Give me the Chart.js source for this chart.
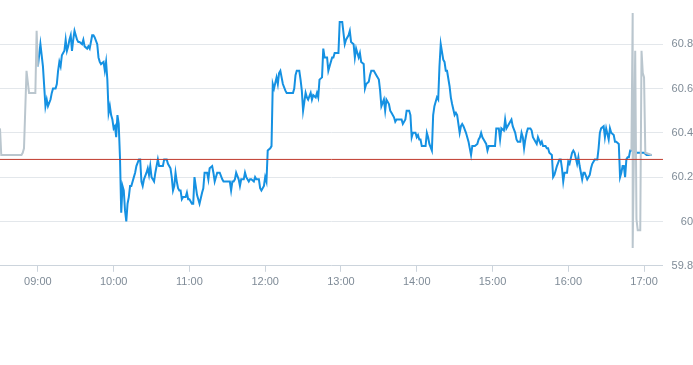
<!DOCTYPE html>
<html>
<head>
<meta charset="utf-8">
<script src="https://cdn.jsdelivr.net/npm/chart.js@4.4.1/dist/chart.umd.min.js"></script>
<style>
  body { margin: 0; background: #fff; }
  #wrap { width: 693px; height: 293px; }
</style>
</head>
<body>
<div id="wrap"><canvas id="priceChart"></canvas></div>
<script>
// pre-market (grey)
const preTimes = ["08:30", "08:31", "08:47", "08:48", "08:49", "08:51", "08:52", "08:53", "08:58", "08:59", "09:00"];
const preValues = [60.42, 60.30, 60.30, 60.31, 60.33, 60.68, 60.63, 60.58, 60.58, 60.86, 60.70];

// regular session (blue)
const sessionTimes = [
  "09:00", "09:02", "09:04", "09:06", "09:07", "09:08", "09:10", "09:11", "09:12", "09:14",
  "09:15", "09:16", "09:17", "09:18", "09:19", "09:20", "09:21", "09:22", "09:23", "09:24",
  "09:25", "09:26", "09:27", "09:28", "09:29", "09:31", "09:32", "09:33", "09:35", "09:36",
  "09:37", "09:39", "09:40", "09:41", "09:43", "09:44", "09:45", "09:47", "09:48", "09:49",
  "09:50", "09:52", "09:53", "09:54", "09:55", "09:56", "09:57", "09:58", "09:59", "10:00",
  "10:01", "10:02", "10:03", "10:04", "10:05", "10:06", "10:07", "10:08", "10:09", "10:10",
  "10:11", "10:12", "10:13", "10:14", "10:16", "10:17", "10:18", "10:20", "10:21", "10:22",
  "10:23", "10:24", "10:26", "10:27", "10:28", "10:29", "10:30", "10:31", "10:32", "10:33",
  "10:35", "10:36", "10:37", "10:39", "10:40", "10:42", "10:43", "10:45", "10:46", "10:47",
  "10:48", "10:49", "10:50", "10:51", "10:52", "10:53", "10:54", "10:55", "10:57", "10:58",
  "10:59", "11:00", "11:02", "11:03", "11:04", "11:06", "11:07", "11:08", "11:10", "11:11",
  "11:12", "11:14", "11:15", "11:16", "11:18", "11:19", "11:20", "11:22", "11:23", "11:24",
  "11:26", "11:27", "11:30", "11:32", "11:33", "11:34", "11:35", "11:36", "11:37", "11:39",
  "11:40", "11:41", "11:43", "11:44", "11:45", "11:47", "11:48", "11:49", "11:51", "11:52",
  "11:53", "11:55", "11:56", "11:57", "11:59", "12:00", "12:01", "12:02", "12:04", "12:05",
  "12:06", "12:07", "12:09", "12:10", "12:11", "12:12", "12:13", "12:14", "12:16", "12:17",
  "12:20", "12:22", "12:23", "12:24", "12:25", "12:27", "12:28", "12:29", "12:30", "12:32",
  "12:33", "12:34", "12:36", "12:37", "12:38", "12:40", "12:41", "12:42", "12:43", "12:45",
  "12:46", "12:47", "12:49", "12:50", "12:51", "12:53", "12:54", "12:55", "12:58", "12:59",
  "13:01", "13:03", "13:04", "13:06", "13:07", "13:08", "13:10", "13:11", "13:12", "13:14",
  "13:15", "13:16", "13:18", "13:19", "13:20", "13:22", "13:23", "13:24", "13:26", "13:28",
  "13:30", "13:31", "13:32", "13:34", "13:35", "13:36", "13:38", "13:39", "13:40", "13:42",
  "13:43", "13:44", "13:47", "13:48", "13:49", "13:51", "13:52", "13:54", "13:55", "13:56",
  "13:57", "13:59", "14:00", "14:01", "14:02", "14:03", "14:04", "14:05", "14:07", "14:08",
  "14:09", "14:10", "14:12", "14:13", "14:14", "14:16", "14:17", "14:18", "14:19", "14:21",
  "14:22", "14:23", "14:24", "14:26", "14:27", "14:28", "14:30", "14:31", "14:32", "14:34",
  "14:35", "14:36", "14:37", "14:39", "14:40", "14:41", "14:43", "14:44", "14:46", "14:48",
  "14:49", "14:50", "14:51", "14:52", "14:53", "14:55", "14:56", "14:57", "14:59", "15:02",
  "15:03", "15:05", "15:06", "15:07", "15:09", "15:10", "15:11", "15:13", "15:14", "15:15",
  "15:16", "15:18", "15:19", "15:20", "15:22", "15:23", "15:24", "15:25", "15:26", "15:27",
  "15:28", "15:30", "15:31", "15:32", "15:34", "15:35", "15:36", "15:38", "15:39", "15:40",
  "15:42", "15:43", "15:44", "15:45", "15:47", "15:48", "15:49", "15:50", "15:51", "15:53",
  "15:54", "15:55", "15:56", "15:57", "15:59", "16:00", "16:01", "16:03", "16:04", "16:05",
  "16:07", "16:08", "16:09", "16:11", "16:12", "16:13", "16:15", "16:17", "16:18", "16:19",
  "16:21", "16:23", "16:24", "16:25", "16:26", "16:28", "16:29", "16:30", "16:32", "16:33",
  "16:34", "16:36", "16:37", "16:38", "16:40", "16:41", "16:42", "16:43", "16:44", "16:45",
  "16:46", "16:47", "16:48", "16:49", "16:50", "16:52", "16:54", "16:57", "17:00", "17:02",
  "17:06"
];
const sessionValues = [
  60.70, 60.80, 60.70, 60.52, 60.55, 60.52, 60.55, 60.58, 60.60, 60.60,
  60.62, 60.68, 60.72, 60.70, 60.75, 60.76, 60.77, 60.82, 60.77, 60.79,
  60.82, 60.84, 60.77, 60.82, 60.86, 60.82, 60.81, 60.81, 60.80, 60.82,
  60.79, 60.78, 60.79, 60.78, 60.84, 60.84, 60.83, 60.80, 60.74, 60.72,
  60.71, 60.72, 60.68, 60.72, 60.64, 60.49, 60.52, 60.48, 60.46, 60.42,
  60.43, 60.38, 60.48, 60.44, 60.29, 60.04, 60.16, 60.14, 60.05, 60.00,
  60.08, 60.11, 60.16, 60.16, 60.20, 60.22, 60.25, 60.28, 60.28, 60.18,
  60.16, 60.19, 60.22, 60.24, 60.21, 60.25, 60.20, 60.19, 60.18, 60.22,
  60.28, 60.25, 60.25, 60.25, 60.28, 60.28, 60.26, 60.24, 60.20, 60.14,
  60.16, 60.22, 60.18, 60.15, 60.14, 60.14, 60.10, 60.11, 60.11, 60.13,
  60.10, 60.10, 60.08, 60.08, 60.20, 60.12, 60.10, 60.08, 60.13, 60.15,
  60.22, 60.22, 60.19, 60.24, 60.25, 60.22, 60.18, 60.22, 60.22, 60.22,
  60.19, 60.18, 60.18, 60.18, 60.14, 60.18, 60.18, 60.19, 60.22, 60.19,
  60.16, 60.19, 60.19, 60.22, 60.20, 60.18, 60.19, 60.19, 60.18, 60.20,
  60.19, 60.19, 60.15, 60.14, 60.16, 60.20, 60.18, 60.32, 60.33, 60.34,
  60.62, 60.60, 60.65, 60.62, 60.67, 60.68, 60.65, 60.62, 60.59, 60.58,
  60.58, 60.58, 60.60, 60.66, 60.68, 60.68, 60.64, 60.59, 60.50, 60.58,
  60.56, 60.55, 60.58, 60.55, 60.57, 60.56, 60.58, 60.56, 60.64, 60.65,
  60.78, 60.74, 60.74, 60.68, 60.70, 60.74, 60.74, 60.76, 60.76, 60.90,
  60.90, 60.80, 60.82, 60.84, 60.86, 60.81, 60.80, 60.74, 60.78, 60.74,
  60.76, 60.72, 60.71, 60.60, 60.62, 60.63, 60.66, 60.68, 60.68, 60.66,
  60.64, 60.59, 60.52, 60.55, 60.50, 60.55, 60.53, 60.50, 60.49, 60.47,
  60.45, 60.46, 60.46, 60.46, 60.44, 60.46, 60.50, 60.50, 60.48, 60.38,
  60.40, 60.40, 60.38, 60.39, 60.37, 60.37, 60.34, 60.34, 60.34, 60.40,
  60.38, 60.35, 60.32, 60.48, 60.52, 60.56, 60.55, 60.70, 60.80, 60.73,
  60.72, 60.68, 60.68, 60.61, 60.56, 60.53, 60.48, 60.49, 60.48, 60.40,
  60.43, 60.44, 60.43, 60.40, 60.38, 60.36, 60.30, 60.34, 60.34, 60.35,
  60.37, 60.38, 60.40, 60.38, 60.37, 60.35, 60.32, 60.34, 60.34, 60.34,
  60.42, 60.42, 60.37, 60.42, 60.41, 60.46, 60.42, 60.44, 60.45, 60.46,
  60.43, 60.40, 60.37, 60.36, 60.36, 60.40, 60.38, 60.33, 60.37, 60.40,
  60.42, 60.42, 60.41, 60.38, 60.36, 60.35, 60.38, 60.35, 60.36, 60.34,
  60.34, 60.33, 60.33, 60.31, 60.30, 60.20, 60.21, 60.23, 60.25, 60.28,
  60.28, 60.24, 60.18, 60.22, 60.22, 60.27, 60.26, 60.31, 60.32, 60.31,
  60.26, 60.29, 60.25, 60.19, 60.22, 60.22, 60.19, 60.21, 60.24, 60.26,
  60.28, 60.28, 60.33, 60.40, 60.42, 60.43, 60.38, 60.42, 60.37, 60.42,
  60.40, 60.39, 60.36, 60.36, 60.35, 60.20, 60.22, 60.25, 60.25, 60.20,
  60.28, 60.29, 60.29, 60.32, 60.32, 60.32, 60.31, 60.31, 60.31, 60.30,
  60.30
];

// after-hours (grey)
const postTimes = ["16:50", "16:51", "16:51", "16:53", "16:54", "16:55", "16:57", "16:58", "16:59", "17:00", "17:01", "17:06"];
const postValues = [60.32, 60.94, 59.88, 60.77, 60.01, 59.96, 59.96, 60.77, 60.67, 60.65, 60.31, 60.30];

const previousClose = 60.28;
const axisStart = "08:30";
const axisEnd = "17:15";

function toMinutes(t) {
    const [h, m] = t.split(":");
    return Number(h) * 60 + Number(m);
}

function toPoints(times, values) {
    return times.map((t, i) => ({ x: toMinutes(t), y: values[i] }));
}

function formatTime(min) {
    const h = Math.floor(min / 60);
    const m = min % 60;
    return String(h).padStart(2, "0") + ":" + String(m).padStart(2, "0");
}

const labelColor = "#7f8b97";
const gridColor = "#e3e7eb";

new Chart(document.getElementById("priceChart"), {
    type: "line",
    data: {
        datasets: [
            {
                data: [{ x: toMinutes(axisStart), y: previousClose }, { x: toMinutes(axisEnd), y: previousClose }],
                borderColor: "#c0392b",
                borderWidth: 1,
                order: 0
            },
            {
                data: toPoints(postTimes, postValues),
                borderColor: "#bac6ce",
                borderWidth: 2,
                order: 1
            },
            {
                data: toPoints(preTimes, preValues),
                borderColor: "#bac6ce",
                borderWidth: 2,
                order: 2
            },
            {
                data: toPoints(sessionTimes, sessionValues),
                borderColor: "#1591e2",
                borderWidth: 2,
                order: 3
            }
        ]
    },
    options: {
        responsive: true,
        maintainAspectRatio: false,
        animation: false,
        layout: { padding: 0 },
        elements: { point: { radius: 0 }, line: { tension: 0 } },
        plugins: { legend: { display: false }, tooltip: { enabled: false } },
        scales: {
            x: {
                type: "linear",
                min: toMinutes(axisStart),
                max: toMinutes(axisEnd),
                afterBuildTicks: axis => {
                    axis.ticks = axis.ticks.filter(t => t.value % 60 === 0);
                },
                ticks: {
                    stepSize: 60,
                    includeBounds: false,
                    padding: 4,
                    maxRotation: 0,
                    color: labelColor,
                    font: { family: "Liberation Sans, Arial, sans-serif", size: 11 },
                    callback: v => formatTime(v)
                },
                grid: { drawOnChartArea: false, tickLength: 6, color: "#ccd4dc" },
                border: { color: "#ccd4dc" }
            },
            y: {
                position: "right",
                min: 59.8,
                max: 60.95,
                afterBuildTicks: axis => {
                    axis.ticks = axis.ticks.filter(t => t.value < 60.85);
                },
                ticks: {
                    stepSize: 0.2,
                    includeBounds: false,
                    padding: 4.3,
                    crossAlign: "far",
                    color: labelColor,
                    font: { family: "Liberation Sans, Arial, sans-serif", size: 11 },
                    callback: v => String(Number(v.toFixed(1)))
                },
                grid: { color: gridColor, drawTicks: false },
                border: { display: false }
            }
        }
    }
});
</script>
</body>
</html>
